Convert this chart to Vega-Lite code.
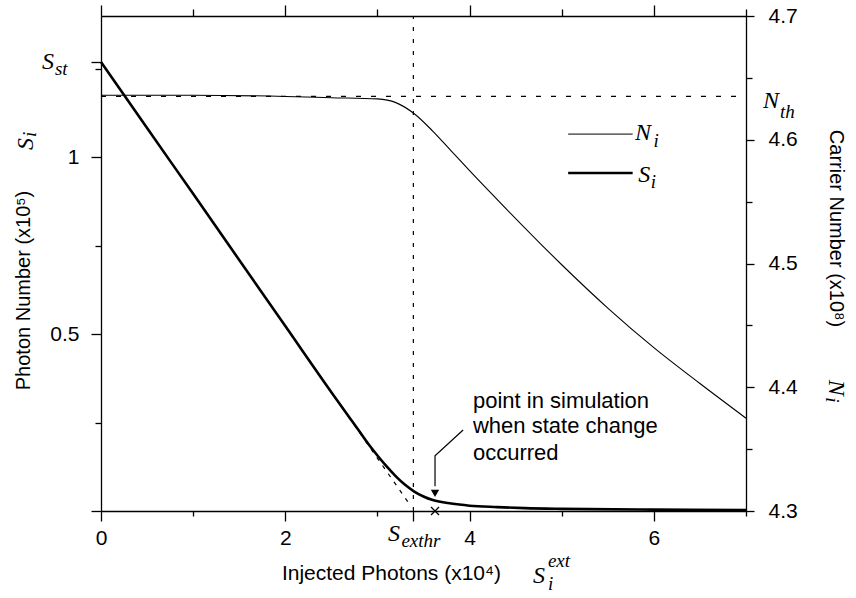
{
  "$schema": "https://vega.github.io/schema/vega-lite/v6.json",
  "width": 645,
  "height": 495,
  "autosize": {"type": "none"},
  "padding": {"left": 101, "top": 16, "right": 110, "bottom": 87},
  "config": {
    "view": {"stroke": null},
    "font": "Liberation Sans",
    "axis": {
      "grid": false,
      "domainColor": "black",
      "domainWidth": 1.3,
      "tickColor": "black",
      "tickWidth": 1.3,
      "labelColor": "black",
      "titleColor": "black",
      "labelFont": "Liberation Sans",
      "titleFont": "Liberation Sans",
      "labelFontSize": 21,
      "titleFontSize": 20,
      "titleFontWeight": "normal",
      "labelFlush": false,
      "labelOverlap": false
    }
  },
  "datasets": {
    "photons": [
      {"x": 0, "s": 1.27},
      {"x": 0.5, "s": 1.083},
      {"x": 1.0, "s": 0.897},
      {"x": 1.5, "s": 0.71},
      {"x": 2.0, "s": 0.523},
      {"x": 2.5, "s": 0.336},
      {"x": 2.7, "s": 0.263},
      {"x": 2.8, "s": 0.227},
      {"x": 2.9, "s": 0.19},
      {"x": 3.0, "s": 0.157},
      {"x": 3.1, "s": 0.126},
      {"x": 3.2, "s": 0.098},
      {"x": 3.3, "s": 0.074},
      {"x": 3.4, "s": 0.055},
      {"x": 3.5, "s": 0.041},
      {"x": 3.6, "s": 0.031},
      {"x": 3.8, "s": 0.021},
      {"x": 4.0, "s": 0.015},
      {"x": 4.3, "s": 0.011},
      {"x": 4.6, "s": 0.008},
      {"x": 5.0, "s": 0.006},
      {"x": 6.0, "s": 0.004},
      {"x": 7.0, "s": 0.003}
    ],
    "tangent": [
      {"x": 2.0, "s": 0.523},
      {"x": 3.33, "s": 0.026}
    ],
    "carriers": [
      {"x": 0, "n": 4.636},
      {"x": 1.0, "n": 4.636},
      {"x": 2.0, "n": 4.635},
      {"x": 2.5, "n": 4.634},
      {"x": 3.0, "n": 4.633},
      {"x": 3.2, "n": 4.63},
      {"x": 3.4, "n": 4.621},
      {"x": 3.6, "n": 4.607},
      {"x": 3.8, "n": 4.591},
      {"x": 4.0, "n": 4.575},
      {"x": 4.4, "n": 4.544},
      {"x": 5.0, "n": 4.499},
      {"x": 5.5, "n": 4.464},
      {"x": 6.0, "n": 4.432},
      {"x": 6.5, "n": 4.403},
      {"x": 7.0, "n": 4.375}
    ],
    "threshold": [
      {"x": 0, "n": 4.635},
      {"x": 7, "n": 4.635}
    ],
    "arrow": [
      {"x": 3.93, "s": 0.229, "o": 1},
      {"x": 3.625, "s": 0.156, "o": 2},
      {"x": 3.625, "s": 0.07, "o": 3}
    ],
    "notes": [
      {"x": 4.037, "s": 0.291, "t": "point in simulation"},
      {"x": 4.037, "s": 0.221, "t": "when state change"},
      {"x": 4.037, "s": 0.144, "t": "occurred"}
    ],
    "mathMain": [
      {"x": -0.64, "s": 1.25, "t": "S"},
      {"x": 5.795, "s": 1.049, "t": "N"},
      {"x": 5.83, "s": 0.93, "t": "S"},
      {"x": 7.185, "s": 1.14, "t": "N"},
      {"x": 3.115, "s": -0.085, "t": "S"},
      {"x": 4.689, "s": -0.204, "t": "S"}
    ],
    "mathSub": [
      {"x": -0.5, "s": 1.233, "t": "st"},
      {"x": 5.995, "s": 1.029, "t": "i"},
      {"x": 5.965, "s": 0.913, "t": "i"},
      {"x": 7.37, "s": 1.111, "t": "th"},
      {"x": 3.26, "s": -0.102, "t": "exthr"},
      {"x": 4.85, "s": -0.158, "t": "ext"},
      {"x": 4.85, "s": -0.223, "t": "i"}
    ]
  },
  "layer": [
    {
      "encoding": {
        "x": {
          "field": "x", "type": "quantitative",
          "scale": {"domain": [0, 7], "nice": false},
          "axis": {
            "orient": "bottom",
            "values": [0, 1, 2, 3, 3.39, 4, 5, 6, 7],
            "labelExpr": "datum.value % 2 === 0 ? format(datum.value, 'd') : ''",
            "tickSize": {"condition": {"test": "datum.value % 2 === 0 || datum.value === 3.39", "value": 10}, "value": 5},
            "labelPadding": 6,
            "title": "Injected Photons (x10⁴)",
            "titleFontSize": 21,
            "titleX": 290,
            "titlePadding": 14
          }
        },
        "y": {
          "field": "s", "type": "quantitative",
          "scale": {"domain": [0, 1.4], "nice": false},
          "axis": {
            "orient": "left",
            "values": [0, 0.25, 0.5, 0.75, 1, 1.25, 1.27],
            "labelExpr": "datum.value === 0.5 ? '0.5' : datum.value === 1 ? '1' : ''",
            "tickSize": {"condition": {"test": "datum.value === 0 || datum.value === 0.5 || datum.value === 1 || datum.value === 1.27", "value": 10}, "value": 6},
            "labelPadding": 12,
            "title": "Photon Number (x10⁵)",
            "titleY": 274,
            "titlePadding": 16
          }
        }
      },
      "layer": [
        {
          "data": {"name": "photons"},
          "mark": {"type": "line", "color": "black", "strokeWidth": 2.6, "interpolate": "monotone"}
        },
        {
          "data": {"name": "tangent"},
          "mark": {"type": "line", "color": "black", "strokeWidth": 1.2, "strokeDash": [4, 6]}
        },
        {
          "data": {"values": [{"x": 3.39, "s": 0, "s2": 1.4}]},
          "mark": {"type": "rule", "color": "black", "strokeWidth": 1.2, "strokeDash": [4, 8]},
          "encoding": {
            "y2": {"field": "s2"}
          }
        },
        {
          "data": {"name": "arrow"},
          "mark": {"type": "line", "color": "black", "strokeWidth": 1.2},
          "encoding": {
            "order": {"field": "o"}
          }
        },
        {
          "data": {"values": [{"x": 3.625, "s": 0.05}]},
          "mark": {"type": "point", "shape": "triangle-down", "filled": true, "color": "black", "size": 70, "opacity": 1}
        },
        {
          "data": {"values": [{"x": 3.625, "s": 0}]},
          "mark": {"type": "point", "shape": "M -1 -1 L 1 1 M -1 1 L 1 -1", "filled": false, "color": "black", "strokeWidth": 1.3, "size": 64, "opacity": 1}
        },
        {
          "data": {"name": "notes"},
          "mark": {"type": "text", "align": "left", "baseline": "alphabetic", "font": "Liberation Sans", "fontSize": 22, "color": "black"},
          "encoding": {
            "text": {"field": "t"}
          }
        },
        {
          "data": {"values": [{"x": 5.07, "s": 1.066}, {"x": 5.77, "s": 1.066}]},
          "mark": {"type": "line", "color": "black", "strokeWidth": 1}
        },
        {
          "data": {"values": [{"x": 5.07, "s": 0.956}, {"x": 5.77, "s": 0.956}]},
          "mark": {"type": "line", "color": "black", "strokeWidth": 2.6}
        },
        {
          "data": {"name": "mathMain"},
          "mark": {"type": "text", "align": "left", "baseline": "alphabetic", "font": "Liberation Serif", "fontStyle": "italic", "fontSize": 24, "color": "black"},
          "encoding": {
            "text": {"field": "t"}
          }
        },
        {
          "data": {"name": "mathSub"},
          "mark": {"type": "text", "align": "left", "baseline": "alphabetic", "font": "Liberation Serif", "fontStyle": "italic", "fontSize": 19, "color": "black"},
          "encoding": {
            "text": {"field": "t"}
          }
        },
        {
          "data": {"values": [{"x": -0.738, "s": 1.021, "t": "S"}]},
          "mark": {"type": "text", "angle": 270, "align": "left", "baseline": "alphabetic", "font": "Liberation Serif", "fontStyle": "italic", "fontSize": 24, "color": "black"},
          "encoding": {
            "text": {"field": "t"}
          }
        },
        {
          "data": {"values": [{"x": -0.705, "s": 1.058, "t": "i"}]},
          "mark": {"type": "text", "angle": 270, "align": "left", "baseline": "alphabetic", "font": "Liberation Serif", "fontStyle": "italic", "fontSize": 19, "color": "black"},
          "encoding": {
            "text": {"field": "t"}
          }
        }
      ]
    },
    {
      "encoding": {
        "x": {
          "field": "x", "type": "quantitative",
          "scale": {"domain": [0, 7], "nice": false},
          "axis": {
            "orient": "top",
            "values": [0, 1, 2, 3, 4, 5, 6, 7],
            "labels": false,
            "tickSize": {"condition": {"test": "datum.value % 2 === 0", "value": 11}, "value": 7},
            "title": null
          }
        },
        "y": {
          "field": "n", "type": "quantitative",
          "scale": {"domain": [4.3, 4.7], "nice": false, "zero": false},
          "axis": {
            "orient": "right",
            "values": [4.3, 4.35, 4.4, 4.45, 4.5, 4.55, 4.6, 4.65, 4.7],
            "labelExpr": "round(datum.value * 100) % 10 === 0 ? format(datum.value, '.1f') : ''",
            "tickSize": {"condition": {"test": "round(datum.value * 100) % 10 === 0", "value": 8}, "value": 6},
            "labelPadding": 14,
            "title": "Carrier Number (x10⁸)",
            "titleY": 212,
            "titlePadding": 28
          }
        }
      },
      "layer": [
        {
          "data": {"name": "threshold"},
          "mark": {"type": "line", "color": "black", "strokeWidth": 1.2, "strokeDash": [5, 10]}
        },
        {
          "data": {"name": "carriers"},
          "mark": {"type": "line", "color": "black", "strokeWidth": 1.1, "interpolate": "monotone"}
        },
        {
          "data": {"values": [{"x": 7.901, "n": 4.406, "t": "N"}]},
          "mark": {"type": "text", "angle": 90, "align": "left", "baseline": "alphabetic", "font": "Liberation Serif", "fontStyle": "italic", "fontSize": 24, "color": "black"},
          "encoding": {
            "text": {"field": "t"}
          }
        },
        {
          "data": {"values": [{"x": 7.868, "n": 4.392, "t": "i"}]},
          "mark": {"type": "text", "angle": 90, "align": "left", "baseline": "alphabetic", "font": "Liberation Serif", "fontStyle": "italic", "fontSize": 19, "color": "black"},
          "encoding": {
            "text": {"field": "t"}
          }
        }
      ]
    }
  ],
  "resolve": {"scale": {"y": "independent"}, "axis": {"x": "independent", "y": "independent"}}
}
